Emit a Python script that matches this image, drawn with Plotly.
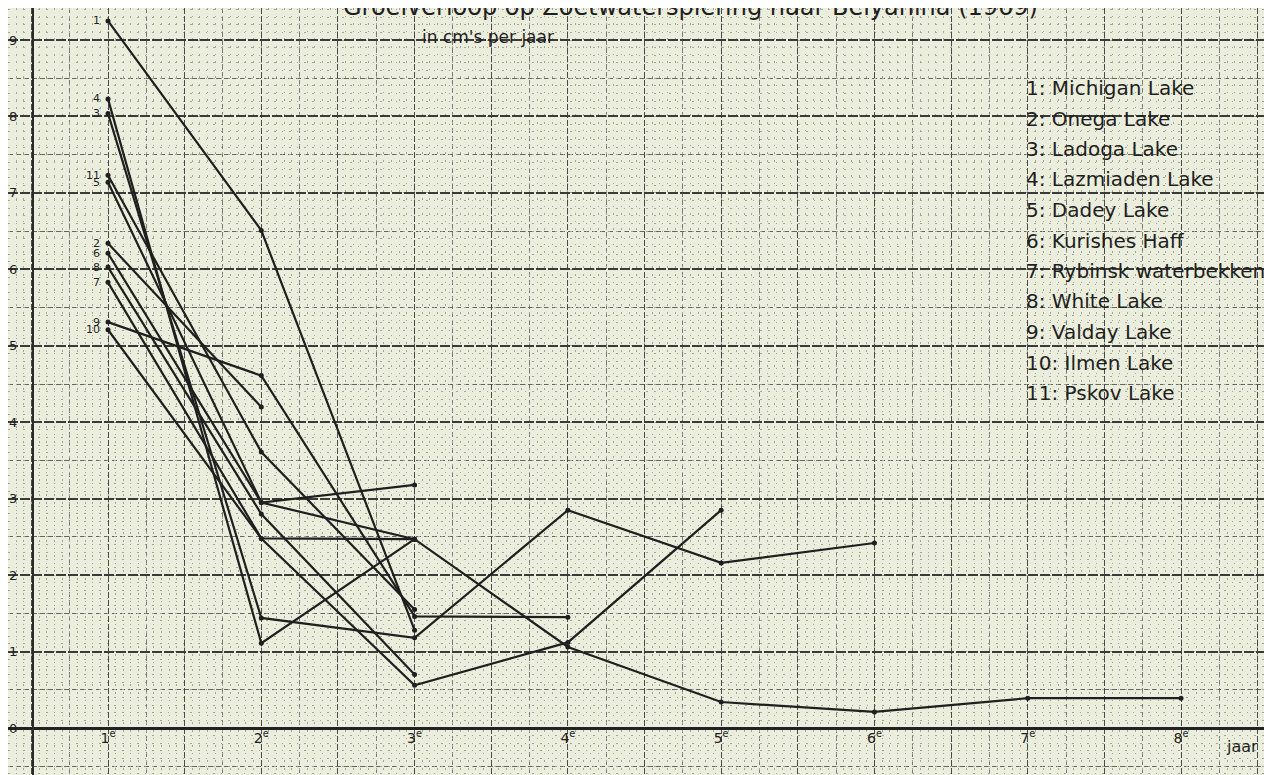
import plotly.graph_objects as go

# ---------------- data ----------------
years = [1, 2, 3, 4, 5, 6, 7, 8]
year_labels = ["1<sup>e</sup>", "2<sup>e</sup>", "3<sup>e</sup>", "4<sup>e</sup>",
               "5<sup>e</sup>", "6<sup>e</sup>", "7<sup>e</sup>", "8<sup>e</sup>"]
y_ticks = [0, 1, 2, 3, 4, 5, 6, 7, 8, 9]

lake_ids = ["1", "2", "3", "4", "5", "6", "7", "8", "9", "10", "11"]
lake_names = ["Michigan Lake", "Onega Lake", "Ladoga Lake", "Lazmiaden Lake",
              "Dadey Lake", "Kurishes Haff", "Rybinsk waterbekken", "White Lake",
              "Valday Lake", "Ilmen Lake", "Pskov Lake"]

s1 = [9.25, 6.51, 1.28]
s2 = [6.34, 4.20]
s3 = [8.04, 1.44, 1.18, 2.85, 2.16, 2.42]
s4 = [8.23, 1.11, 2.47]
s5 = [7.14, 2.95, 3.18]
s6 = [6.21, 2.95, 2.47, 1.06, 0.34, 0.21, 0.39, 0.39]
s7 = [5.83, 2.48, 2.47]
s8 = [6.03, 2.80, 0.70]
s9 = [5.31, 4.61, 1.46, 1.45]
s10 = [5.21, 2.48, 0.56, 1.12, 2.85]
s11 = [7.23, 3.61, 1.55]
series = [s1, s2, s3, s4, s5, s6, s7, s8, s9, s10, s11]

title_line1 = "Groeiverloop op Zoetwaterspiering naar Belyanina (1969)"
title_line2 = "in cm's per jaar"
x_unit = "jaar"

# ---------------- style ----------------
PAPER = "#eceedd"
INK = "#1f1f1f"
FONT = "DejaVu Sans, sans-serif"

W, H = 1264, 767          # page adds an 8px body margin on the left/top
OFF = 8


def px(sx):
    return (sx - OFF) / W


def py(sy):
    return 1 - (sy - OFF) / H


fig = go.Figure()
for lid, vals in zip(lake_ids, series):
    fig.add_trace(go.Scatter(
        x=years[:len(vals)], y=vals,
        mode="lines+markers",
        line=dict(color=INK, width=2.2),
        marker=dict(color=INK, size=5),
        hoverinfo="skip",
        xaxis="x", yaxis="y",
    ))
# empty trace so that the overlay grid subplot exists
fig.add_trace(go.Scatter(x=[], y=[], xaxis="x2", yaxis="y2", showlegend=False))

UX = 153.29   # pixels per year
UY = 76.44    # pixels per cm
x0 = 1 - (108 - OFF) / UX
XR = [x0, x0 + W / UX]
ytop = (728 - OFF) / UY
YR = [ytop - H / UY, ytop]

fig.update_layout(
    width=W, height=H,
    margin=dict(l=0, r=0, t=0, b=0, autoexpand=False),
    paper_bgcolor=PAPER, plot_bgcolor=PAPER,
    showlegend=False,
    xaxis=dict(range=XR, showticklabels=False, tick0=0, dtick=0.5,
               showgrid=True, gridcolor="#4a4a4a", gridwidth=1.3, griddash="6px,2px",
               zeroline=False, showline=False,
               minor=dict(tick0=0, dtick=0.25, showgrid=True, gridcolor="#7a7a72",
                          gridwidth=1, griddash="5px,3px")),
    yaxis=dict(range=YR, showticklabels=False, tick0=0, dtick=1,
               showgrid=True, gridcolor="#3a3a3a", gridwidth=2, griddash="10px,2px",
               zeroline=True, zerolinecolor="#222222", zerolinewidth=3,
               showline=False,
               minor=dict(tick0=0, dtick=0.5, showgrid=True, gridcolor="#666660",
                          gridwidth=1.3, griddash="5px,3px")),
    xaxis2=dict(range=XR, overlaying="x", anchor="free", position=py(728),
                tickmode="array", tickvals=years, ticktext=year_labels,
                showgrid=False, zeroline=False, showline=False, ticks="",
                tickfont=dict(size=14, color=INK, family=FONT),
                minor=dict(tick0=0, dtick=0.05, showgrid=True, gridcolor="#a3a598",
                           gridwidth=1, griddash="1.5px,6.1px")),
    yaxis2=dict(range=YR, overlaying="y", anchor="free", position=px(33),
                side="left",
                tickmode="array", tickvals=y_ticks, ticktext=[str(v) for v in y_ticks],
                showgrid=False, zeroline=False, ticklabelstandoff=12,
                showline=True, linecolor="#2a2a2a", linewidth=2, ticks="",
                tickfont=dict(size=13, color=INK, family=FONT),
                minor=dict(tick0=0, dtick=0.1, showgrid=True, gridcolor="#a3a598",
                           gridwidth=1, griddash="1.5px,6.1px")),
)

annotations = []
annotations.append(dict(text=title_line1, xref="paper", yref="paper",
                        x=px(690), y=py(7), xanchor="center", yanchor="middle",
                        showarrow=False, font=dict(size=24, color=INK, family=FONT)))
annotations.append(dict(text=title_line2, xref="paper", yref="paper",
                        x=px(420), y=py(37), xanchor="left", yanchor="middle",
                        showarrow=False, font=dict(size=17, color=INK, family=FONT)))
annotations.append(dict(text=x_unit, xref="paper", yref="paper",
                        x=px(1242), y=py(746), xanchor="center", yanchor="middle",
                        showarrow=False, font=dict(size=16, color=INK, family=FONT)))
for i, (lid, name) in enumerate(zip(lake_ids, lake_names)):
    annotations.append(dict(text=f"{lid}: {name}", xref="paper", yref="paper",
                            x=px(1024), y=py(88 + i * 30.5),
                            xanchor="left", yanchor="middle", showarrow=False,
                            font=dict(size=20, color=INK, family=FONT)))
# series numbers beside the first-year points
for lid, vals in zip(lake_ids, series):
    annotations.append(dict(text=lid, xref="x", yref="y", x=years[0], y=vals[0],
                            xanchor="right", yanchor="middle", xshift=-6,
                            showarrow=False,
                            font=dict(size=11, color=INK, family=FONT)))
fig.update_layout(annotations=annotations)

fig.write_html("out.html")
